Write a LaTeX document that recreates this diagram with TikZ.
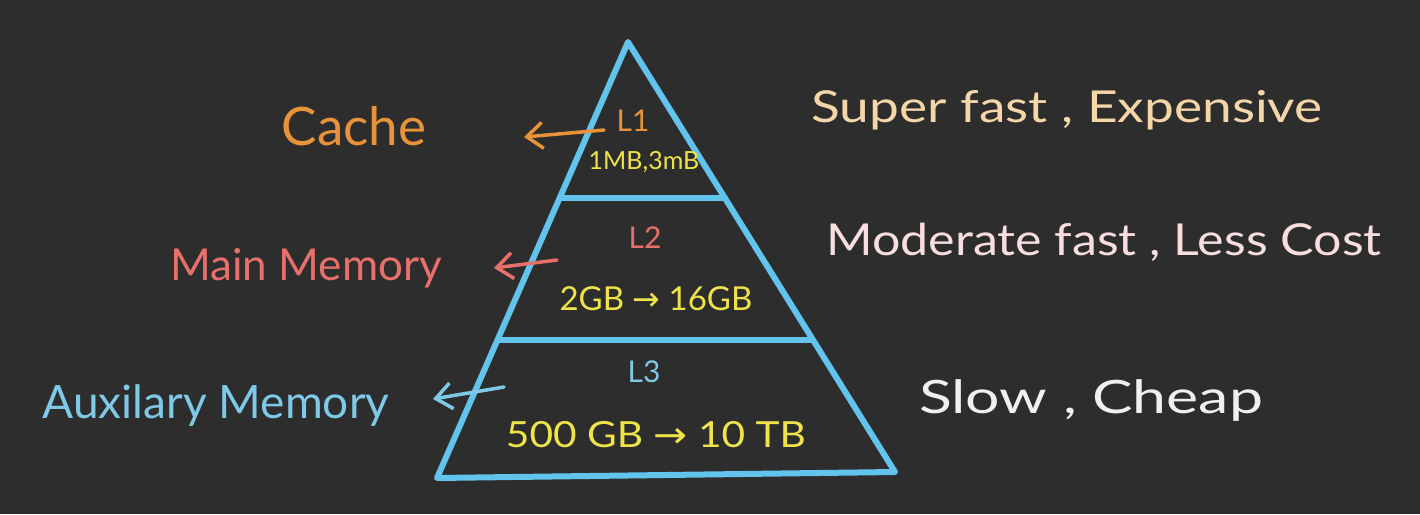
\documentclass[tikz,border=0pt]{standalone}
\usepackage{fontspec}
\usepackage{graphicx}
\setmainfont{Lato}
\newfontfamily\arrowfont{DejaVu Sans}
\usetikzlibrary{arrows.meta}
\definecolor{bg}{HTML}{2D2D2D}
\definecolor{pyr}{HTML}{62C3EC}
\definecolor{cacheC}{HTML}{E8923A}
\definecolor{yel}{HTML}{EEE44A}
\definecolor{salmon}{HTML}{E8706A}
\definecolor{lblue}{HTML}{7EC8E8}
\definecolor{peach}{HTML}{F5D6A8}
\definecolor{pinkw}{HTML}{F8DEDE}
\definecolor{whitish}{HTML}{F0F0F0}
\newcommand{\fs}[1]{\fontsize{#1}{#1}\selectfont}
\newcommand{\ar}{{\arrowfont →}}
\newcommand{\wide}[2]{\scalebox{#1}[1]{#2}}
\tikzset{
  pyrline/.style={draw=pyr, line width=6pt, line join=round, line cap=round},
  lab/.style={inner sep=0pt, anchor=center},
  pointer/.style={line width=3.5pt, line cap=round, -{Straight Barb[length=16pt,width=26pt,line width=3.5pt]}},
}
\begin{document}
\begin{tikzpicture}[x=1pt,y=-1pt]
\useasboundingbox (0,0) rectangle (1420,514);
\fill[bg] (0,0) rectangle (1420,514);
% pyramid
\coordinate (apex) at (628,42);
\coordinate (bl) at (437,478);
\coordinate (br) at (895,472);
\draw[pyrline] (apex) -- (bl) -- (br) -- cycle;
\coordinate (d1l) at (560,198);
\coordinate (d1r) at (725,198);
\coordinate (d2l) at (498,340);
\coordinate (d2r) at (812,340);
\draw[pyrline] (d1l) -- (d1r);
\draw[pyrline] (d2l) -- (d2r);
% level labels
\node[lab, text=cacheC, font=\fs{30}] (l1) at (633,121) {L1};
\node[lab, text=yel, font=\fs{25}] (c1) at (644,162) {1MB,3mB};
\node[lab, text=salmon, font=\fs{30}] (l2) at (645,238) {L2};
\node[lab, text=yel, font=\fs{33}] (c2) at (656,299) {2GB \ar{} 16GB};
\node[lab, text=lblue, font=\fs{30}] (l3) at (644,372) {L3};
\node[lab, text=yel, font=\fs{36}] (c3) at (656,435) {\wide{1.13}{500 GB \ar{} 10 TB}};
% left names
\node[lab, text=cacheC, font=\fs{53}] (cache) at (354,126) {Cache};
\node[lab, text=salmon, font=\fs{44}] (main) at (306,268) {Main Memory};
\node[lab, text=lblue, font=\fs{46}] (aux) at (216,405) {Auxilary Memory};
% right properties
\node[lab, text=peach, font=\fs{44}] (p1) at (1067,110) {\wide{1.21}{Super fast , Expensive}};
\node[lab, text=pinkw, font=\fs{44}] (p2) at (1104,242) {\wide{1.14}{Moderate fast , Less Cost}};
\node[lab, text=whitish, font=\fs{46}] (p3) at (1091,400) {\wide{1.32}{Slow , Cheap}};
% pointers
\coordinate (a1s) at (604,130);
\coordinate (a1e) at (524,137);
\coordinate (a2s) at (557,260);
\coordinate (a2e) at (494,268);
\coordinate (a3s) at (504,387);
\coordinate (a3e) at (433,399);
\draw[pointer, cacheC] (a1s) -- (a1e);
\draw[pointer, salmon] (a2s) -- (a2e);
\draw[pointer, lblue] (a3s) -- (a3e);
\end{tikzpicture}
\end{document}
